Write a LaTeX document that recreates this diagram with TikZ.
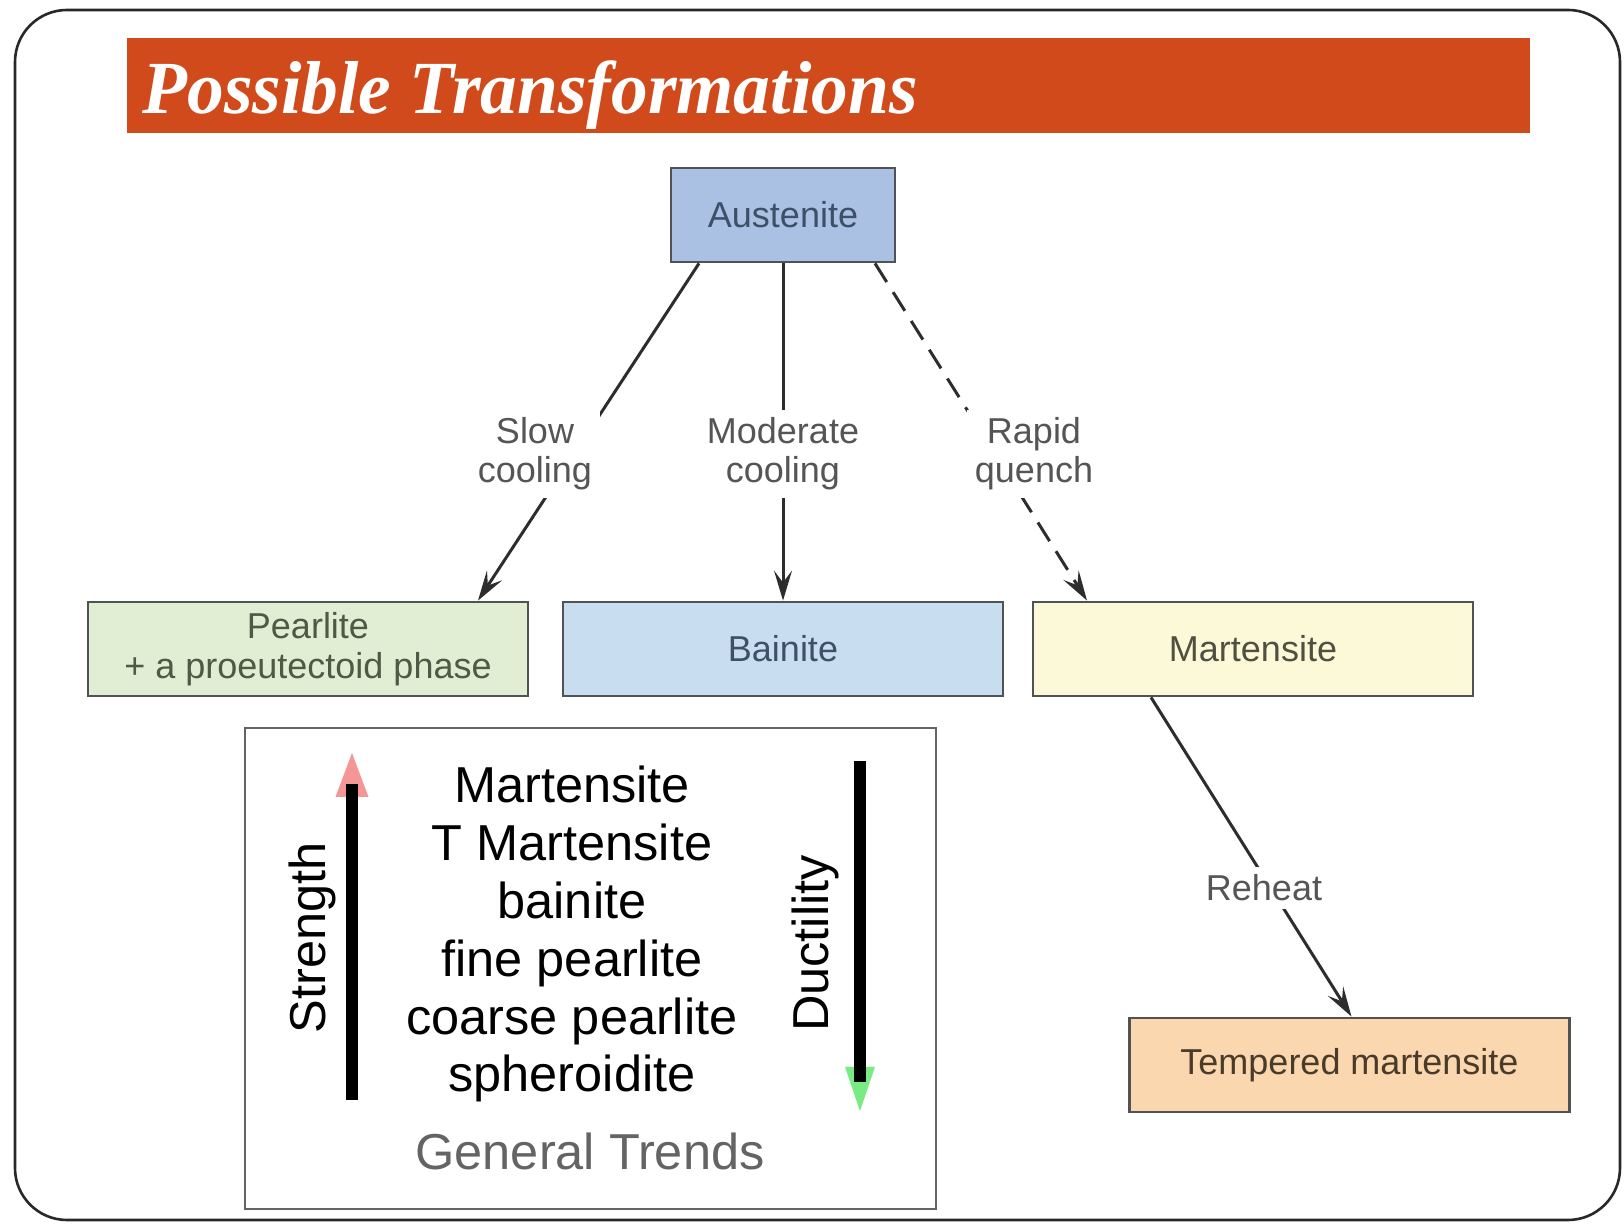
\documentclass[tikz,border=0pt]{standalone}
\usepackage{fontspec}
\setmainfont{Liberation Sans}
\newfontfamily\bannerfont{Liberation Serif}
\usepackage{tikz}
\usetikzlibrary{positioning,arrows.meta}

\definecolor{bannerred}{RGB}{209,74,27}
\definecolor{frameline}{RGB}{40,40,40}
\definecolor{boxline}{RGB}{80,82,84}
\definecolor{wire}{RGB}{45,45,45}
\definecolor{tagtext}{RGB}{85,85,85}
\definecolor{austfill}{RGB}{170,193,228}
\definecolor{austtext}{RGB}{62,80,104}
\definecolor{pearlfill}{RGB}{226,238,212}
\definecolor{pearltext}{RGB}{78,90,70}
\definecolor{bainfill}{RGB}{200,221,239}
\definecolor{martfill}{RGB}{252,249,217}
\definecolor{marttext}{RGB}{80,80,64}
\definecolor{tempfill}{RGB}{250,215,174}
\definecolor{temptext}{RGB}{74,58,42}
\definecolor{trendgray}{RGB}{100,100,100}
\definecolor{strengthhead}{RGB}{244,150,150}
\definecolor{ductilityhead}{RGB}{120,235,130}

\begin{document}
\begin{tikzpicture}[x=0.5pt,y=0.5pt]
\tikzstyle{every node}+=[inner sep=0pt]
\tikzstyle{phase}=[draw=boxline, line width=1.4pt, minimum width=220pt, minimum height=47pt, align=center, font=\fontsize{18}{20.2}\selectfont]
\tikzstyle{route}=[wire, line width=1.5pt, -{Stealth[length=15pt,width=9pt,inset=6pt]}]
\tikzstyle{tag}=[fill=white, inner sep=4pt, text=tagtext, align=center, font=\fontsize{18}{19.5}\selectfont]
\tikzstyle{rank}=[anchor=base, font=\fontsize{25.25}{28.9}\selectfont]
% page and frame
\useasboundingbox (0,0) rectangle (1624,1231);
\fill [white] (0,0) rectangle (1624,1231);
\draw [frameline, line width=1.3pt, rounded corners=26pt] (15,11) rectangle (1620,1221);
% title
\node [fill=bannerred, minimum width=701.5pt, minimum height=47.5pt] (banner) at (828.5,1145.5) {};
\node [anchor=base west, text=white, xscale=0.98, font=\bannerfont\bfseries\itshape\fontsize{37.5}{40}\selectfont] (title) at (142,1117) {Possible Transformations};
% phases
\node [phase, fill=austfill, text=austtext, minimum width=112pt] (aust) at (783,1016) {Austenite};
\node [phase, fill=pearlfill, text=pearltext] (pearl) at (308,582) {Pearlite\\+ a proeutectoid phase};
\node [phase, fill=bainfill, text=austtext] (bain) at (783,582) {Bainite};
\node [phase, fill=martfill, text=marttext] (mart) at (1253,582) {Martensite};
\node [phase, fill=tempfill, text=temptext] (temp) at (1349.5,166) {Tempered martensite};
% cooling paths
\draw [route] ([xshift=-42pt]aust.south) -- ([xshift=85pt]pearl.north);
\draw [route] (aust.south) -- (bain.north);
\draw [route, dash pattern=on 11pt off 6pt] ([xshift=46pt]aust.south) -- ([xshift=-83pt]mart.north);
\draw [route] ([xshift=-51pt]mart.south) -- ([xshift=1pt]temp.north);
\node [tag] (slow) at (535,777) {Slow\\cooling};
\node [tag] (moderate) at (783,777) {Moderate\\cooling};
\node [tag] (rapid) at (1034,777) {Rapid\\quench};
\node [tag] (reheat) at (1264,343) {Reheat};
% general trends panel
\node [draw=trendgray, line width=0.9pt, minimum width=345.5pt, minimum height=240.5pt] (panel) at (590.5,262.5) {};
\foreach \phase [count=\i] in {Martensite, T Martensite, bainite, fine pearlite, coarse pearlite, spheroidite}
  \node [rank] (rank\i) at (572,{428-57.8*(\i-1)}) {\phase};
\node [rotate=90, font=\fontsize{25.25}{28}\selectfont] (strength) at (312,293) {Strength};
\node [rotate=90, font=\fontsize{25.25}{28}\selectfont] (ductility) at (815,287.5) {Ductility};
\coordinate (sfoot) at (352,131);
\coordinate (stip) at (352,478);
\fill [strengthhead] (stip) -- ++(-8.25pt,-22pt) -- ++(16.5pt,0) -- cycle;
\draw [line width=6.2pt] (sfoot) -- (352,447);
\coordinate (dtop) at (860,470);
\coordinate (dtip) at (860,120);
\fill [ductilityhead] (dtip) -- ++(-7.5pt,22pt) -- ++(15pt,0) -- cycle;
\draw [line width=6.2pt] (dtop) -- (860,149);
\node [anchor=base, text=trendgray, font=\fontsize{25.25}{28}\selectfont] (trends) at (590,61) {General Trends};
\end{tikzpicture}
\end{document}
